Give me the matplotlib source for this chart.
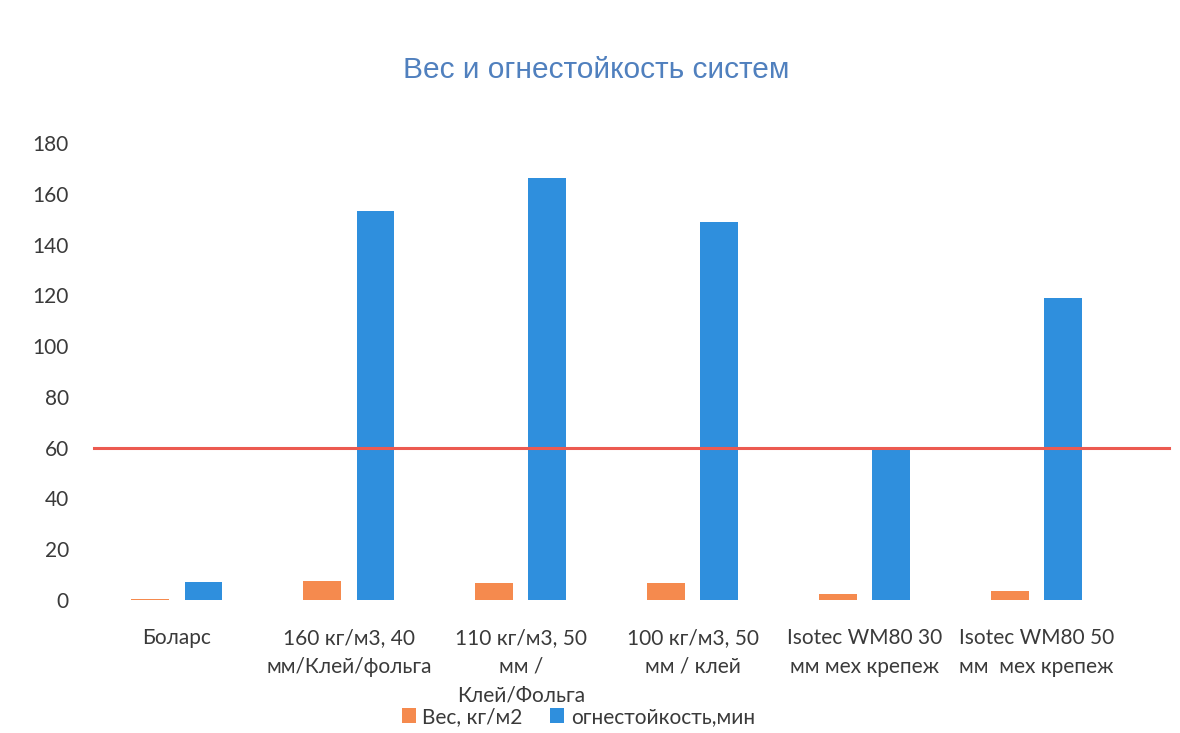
import matplotlib
matplotlib.use("Agg")
import matplotlib.pyplot as plt
import numpy as np

categories = [
    "Боларс",
    "160 кг/м3, 40\nмм/Клей/фольга",
    "110 кг/м3, 50\nмм /\nКлей/Фольга",
    "100 кг/м3, 50\nмм / клей",
    "Isotec WM80 30\nмм мех крепеж",
    "Isotec WM80 50\nмм  мех крепеж",
]
weight = [0.4, 7.5, 6.8, 6.9, 2.4, 3.7]          # Вес, кг/м2
fire_resistance = [7, 153, 166, 149, 59, 119]    # огнестойкость, мин
threshold = 60
yticks = list(range(0, 181, 20))

ORANGE = "#F58A4E"
BLUE = "#2F8FDD"
RED = "#EC5A50"
TEXT = "#3a3a3a"
TITLE = "#5080BE"

plt.rcParams["font.family"] = ["Lato", "DejaVu Sans"]

fig = plt.figure(figsize=(11.8, 7.33), dpi=100)
ax = fig.add_axes([0.0771, 0.1814, 0.874, 0.6236])

x = np.arange(len(categories))
w = 0.22
off = 0.155
ax.bar(x - off, weight, width=w, color=ORANGE, label="Вес, кг/м2", zorder=2)
ax.bar(x + off, fire_resistance, width=w, color=BLUE, label="огнестойкость,мин", zorder=2)

ax.axhline(threshold, xmin=0.003, xmax=1.045, color=RED, lw=2.2, zorder=3, clip_on=False)

ax.set_xlim(-0.5, len(categories) - 0.5)
ax.set_ylim(0, 180)
ax.set_yticks(yticks)
ax.set_yticklabels([str(v) for v in yticks])
ax.set_xticks(x)
ax.set_xticklabels(categories, linespacing=1.55, va="top")

for s in ax.spines.values():
    s.set_visible(False)
ax.tick_params(axis="both", length=0, labelsize=15, colors=TEXT)
ax.tick_params(axis="y", pad=16)
ax.tick_params(axis="x", pad=20)

fig.text(0.505, 0.905, "Вес и огнестойкость систем", ha="center", va="center",
         fontsize=21.5, color=TITLE, family=["Liberation Sans", "DejaVu Sans"])

fig.legend(loc="center", bbox_to_anchor=(0.49, 0.022), ncol=2, frameon=False,
           fontsize=15, handlelength=0.7, handleheight=0.7, handletextpad=0.3,
           columnspacing=1.3, labelcolor=TEXT)

fig.savefig("out.png", dpi=100, facecolor="white")
